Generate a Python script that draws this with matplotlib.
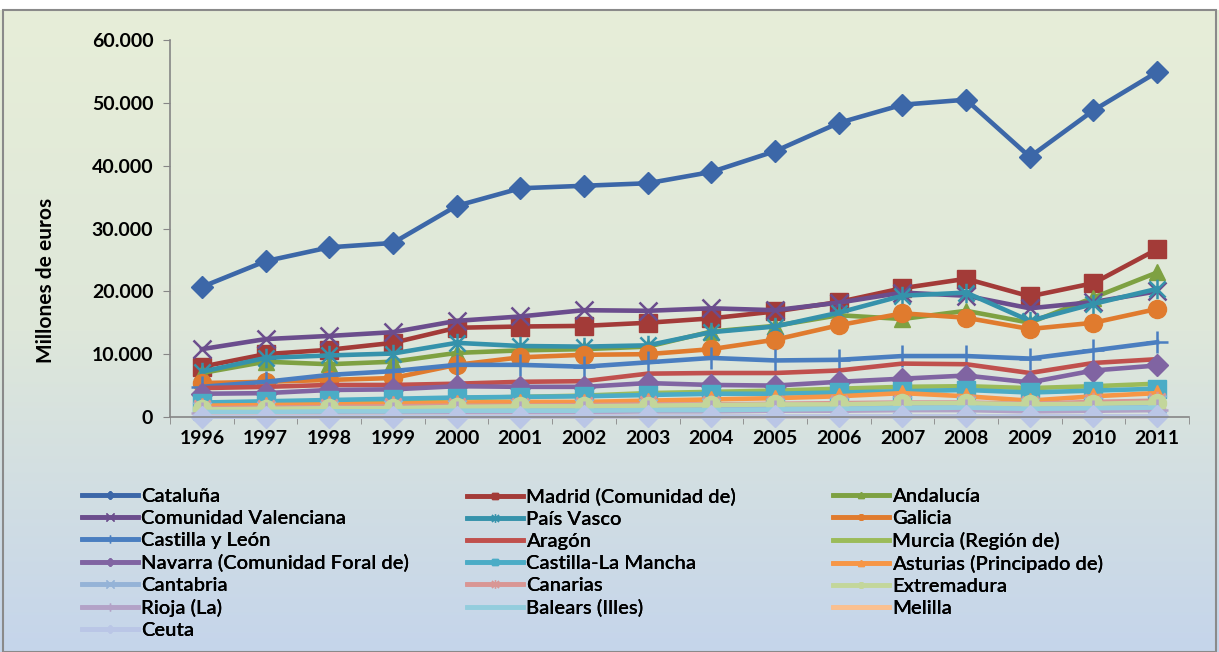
import numpy as np
import matplotlib.pyplot as plt
from matplotlib.path import Path
from matplotlib.lines import Line2D
from matplotlib.ticker import FuncFormatter, MultipleLocator
from matplotlib.patches import Rectangle

plt.rcParams['font.family'] = ['Lato', 'DejaVu Sans']

years = list(range(1996, 2012))

# millones de euros
cataluna = [20.7, 24.8, 27.0, 27.7, 33.6, 36.4, 36.8, 37.2, 39.0, 42.3, 46.8, 49.7, 50.5, 41.4, 48.8, 54.9]
madrid = [8.0, 10.0, 10.7, 11.8, 14.2, 14.4, 14.5, 15.0, 15.7, 16.8, 18.3, 20.5, 22.0, 19.2, 21.3, 26.7]
andalucia = [7.0, 8.8, 8.4, 8.8, 10.2, 10.6, 10.8, 11.2, 13.6, 14.5, 16.2, 15.6, 16.9, 15.0, 19.0, 23.0]
valenciana = [10.8, 12.4, 12.9, 13.5, 15.3, 16.0, 17.0, 16.9, 17.3, 17.0, 18.2, 19.8, 19.3, 17.3, 18.3, 20.0]
pais_vasco = [7.2, 9.4, 9.8, 10.1, 11.8, 11.3, 11.2, 11.4, 13.5, 14.4, 16.6, 19.3, 19.8, 15.3, 18.0, 20.4]
galicia = [5.4, 5.6, 5.9, 6.2, 8.3, 9.5, 9.9, 10.0, 10.8, 12.3, 14.6, 16.5, 15.8, 14.0, 15.0, 17.2]
castilla_leon = [4.8, 5.6, 6.7, 7.3, 8.3, 8.3, 8.0, 8.7, 9.4, 9.0, 9.1, 9.7, 9.7, 9.3, 10.6, 11.9]
aragon = [4.6, 4.8, 5.1, 5.1, 5.3, 5.6, 5.7, 6.9, 7.0, 7.0, 7.4, 8.5, 8.4, 7.0, 8.6, 9.2]
murcia = [2.0, 2.2, 2.4, 2.6, 3.0, 3.2, 3.4, 3.8, 4.0, 4.2, 4.5, 4.8, 4.9, 4.6, 4.9, 5.3]
navarra = [3.7, 3.8, 4.3, 4.4, 4.9, 4.8, 4.8, 5.4, 5.1, 5.0, 5.6, 6.1, 6.6, 5.5, 7.4, 8.2]
castilla_mancha = [2.3, 2.5, 2.7, 2.9, 3.1, 3.2, 3.3, 3.5, 3.7, 3.7, 3.9, 4.1, 4.3, 3.9, 4.2, 4.5]
asturias = [1.8, 1.9, 2.0, 2.1, 2.3, 2.4, 2.4, 2.6, 2.8, 3.0, 3.3, 3.8, 3.3, 2.6, 3.3, 3.8]
cantabria = [1.0, 1.1, 1.1, 1.2, 1.3, 1.4, 1.4, 1.5, 1.6, 1.6, 1.8, 1.9, 1.9, 1.6, 1.8, 2.0]
canarias = [1.4, 1.5, 1.6, 1.7, 1.8, 1.8, 1.9, 2.0, 2.0, 2.1, 2.2, 2.3, 2.3, 2.1, 2.4, 2.6]
extremadura = [1.2, 1.3, 1.4, 1.4, 1.6, 1.7, 1.7, 1.8, 1.9, 2.0, 2.0, 2.2, 2.2, 2.0, 2.1, 2.3]
rioja = [0.6, 0.6, 0.7, 0.7, 0.8, 0.8, 0.8, 0.9, 0.9, 1.0, 1.0, 1.1, 1.1, 0.9, 1.0, 1.1]
balears = [0.8, 0.8, 0.9, 0.9, 1.0, 1.0, 1.0, 1.1, 1.1, 1.2, 1.3, 1.4, 1.5, 1.3, 1.4, 1.5]
melilla = [0.05, 0.05, 0.05, 0.06, 0.06, 0.07, 0.07, 0.08, 0.08, 0.08, 0.09, 0.1, 0.1, 0.09, 0.1, 0.1]
ceuta = [0.05, 0.05, 0.06, 0.06, 0.07, 0.07, 0.08, 0.08, 0.09, 0.09, 0.1, 0.1, 0.1, 0.1, 0.1, 0.1]

regiones = ['Cataluña', 'Madrid (Comunidad de)', 'Andalucía', 'Comunidad Valenciana',
            'País Vasco', 'Galicia', 'Castilla y León', 'Aragón', 'Murcia (Región de)',
            'Navarra (Comunidad Foral de)', 'Castilla-La Mancha', 'Asturias (Principado de)',
            'Cantabria', 'Canarias', 'Extremadura', 'Rioja (La)', 'Balears (Illes)',
            'Melilla', 'Ceuta']
series = [cataluna, madrid, andalucia, valenciana, pais_vasco, galicia, castilla_leon,
          aragon, murcia, navarra, castilla_mancha, asturias, cantabria, canarias,
          extremadura, rioja, balears, melilla, ceuta]
colores = ['#3c67a8', '#a33b38', '#7ea142', '#6b4d8d', '#3592ab', '#e07b2e',
           '#4a7ec0', '#c0504d', '#9bbb59', '#8064a2', '#4bacc6', '#f79646',
           '#95b3d7', '#d99694', '#c3d69b', '#b3a2c7', '#93cddd', '#fac090', '#bac6e6']

# asterisco tipo Excel: aspa + barra vertical
asterisco = Path([(-0.5, -0.5), (0.5, 0.5), (-0.5, 0.5), (0.5, -0.5), (0, -0.6), (0, 0.6)],
                 [Path.MOVETO, Path.LINETO, Path.MOVETO, Path.LINETO, Path.MOVETO, Path.LINETO])
ciclo = ['D', 's', '^', 'x', asterisco, 'o', '+', None, None]
tamanos = {'D': 11, 's': 13, '^': 12, 'x': 13, 'o': 13, '+': 16, 'ast': 14}

fig = plt.figure(figsize=(12.19, 6.52), dpi=100)

# fondo degradado del area del grafico
bg = fig.add_axes([0, 0, 1, 642 / 652], zorder=-5)
c_top = np.array([0xe7, 0xee, 0xd8]) / 255
c_mid = np.array([0xde, 0xe7, 0xda]) / 255
c_bot = np.array([0xc5, 0xd5, 0xeb]) / 255
t = np.linspace(0, 1, 256)[:, None]
grad = np.where(t < 0.5, c_top + (c_mid - c_top) * (t / 0.5), c_mid + (c_bot - c_mid) * ((t - 0.5) / 0.5))
bg.imshow(grad[:, None, :].repeat(2, axis=1), aspect='auto', extent=[0, 1, 0, 1], origin='upper')
bg.set_axis_off()
fig.patches.append(Rectangle((3 / 1219, 0), 1213 / 1219, 642 / 652, transform=fig.transFigure,
                             fill=False, edgecolor='#8a8a8a', lw=1.5, zorder=10))

ax = fig.add_axes([170 / 1219, 235 / 652, 1019 / 1219, 377 / 652])
ax.set_facecolor('none')

handles = []
for i, (nombre, valores, color) in enumerate(zip(regiones, series, colores)):
    m = ciclo[i % 9]
    y = np.array(valores) * 1000
    kw = dict(color=color, lw=3.3, solid_joinstyle='round', clip_on=False)
    if m is None:
        ax.plot(years, y, **kw)
        handles.append(Line2D([], [], color=color, lw=3.3))
        continue
    key = 'ast' if m is asterisco else m
    ms = tamanos[key]
    if m in ('x', '+') or m is asterisco:
        ax.plot(years, y, marker=m, ms=ms, mec=color, mfc='none', mew=1.8, **kw)
        handles.append(Line2D([], [], color=color, lw=3.3, marker=m, ms=6, mec=color, mfc='none', mew=1))
    else:
        ax.plot(years, y, marker=m, ms=ms, mec=color, mfc=color, **kw)
        handles.append(Line2D([], [], color=color, lw=3.3, marker=m, ms=4, mec=color, mfc=color))

ax.set_xlim(1995.5, 2011.5)
ax.set_ylim(0, 60000)
ax.set_xticks(years)
ax.set_xticks(np.arange(1995.5, 2012, 1), minor=True)
ax.yaxis.set_major_locator(MultipleLocator(10000))
ax.yaxis.set_major_formatter(FuncFormatter(lambda v, p: f'{int(v):,}'.replace(',', '.')))
ax.tick_params(axis='x', which='major', length=0, pad=9, labelsize=14)
ax.tick_params(axis='x', which='minor', length=5, color='#868686', direction='out')
ax.tick_params(axis='y', length=5, color='#868686', pad=7, labelsize=14)
for lab in ax.get_xticklabels() + ax.get_yticklabels():
    lab.set_fontweight('bold')
for s in ['top', 'right']:
    ax.spines[s].set_visible(False)
for s in ['left', 'bottom']:
    ax.spines[s].set_color('#868686')
    ax.spines[s].set_linewidth(1.2)
ax.set_ylabel('Millones de euros', fontsize=15, fontweight='bold')
ax.yaxis.set_label_coords(-0.112, 0.363)

# leyenda en tres columnas, orden por filas
xs = [82 / 1219, 467 / 1219, 833 / 1219]
for c in range(3):
    idx = list(range(c, len(regiones), 3))
    leg = fig.legend([handles[k] for k in idx], [regiones[k] for k in idx],
                     loc='upper left', bbox_to_anchor=(xs[c], 1 - 488 / 652),
                     frameon=False, prop={'size': 14.5, 'weight': 'semibold'},
                     handlelength=2.8, handletextpad=0.12,
                     labelspacing=0.245, borderpad=0, borderaxespad=0)
    fig.add_artist(leg)

fig.savefig('out.png', dpi=100)
